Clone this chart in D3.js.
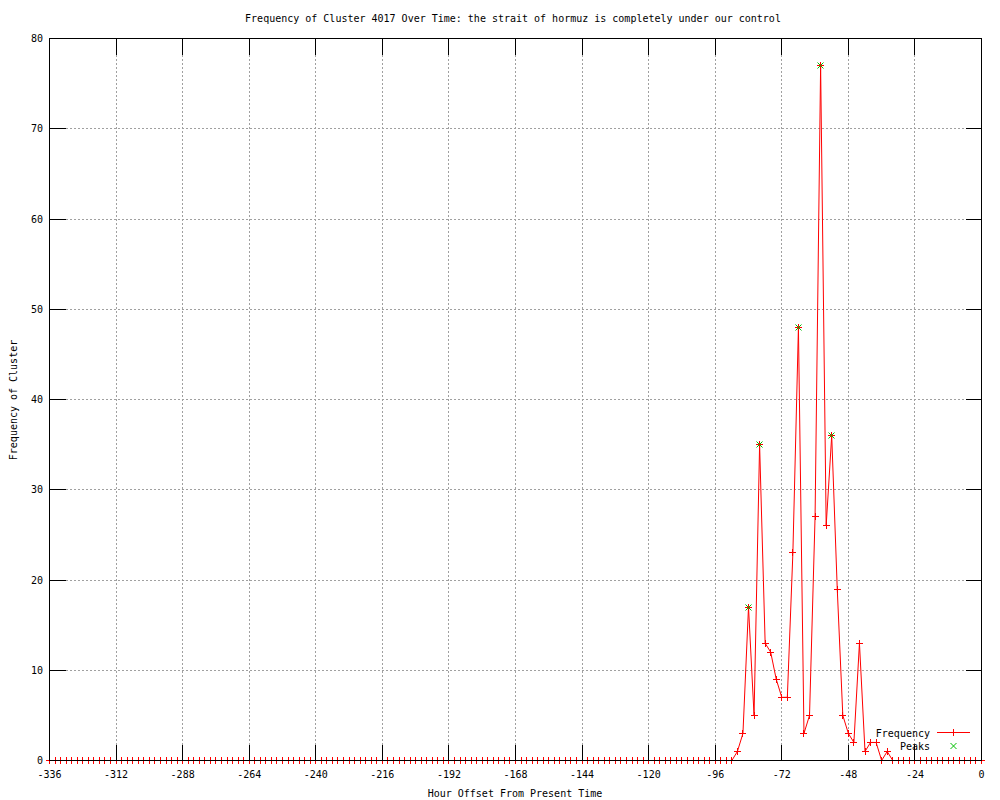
<!DOCTYPE html>
<html>
<head>
<meta charset="utf-8">
<script src="https://cdnjs.cloudflare.com/ajax/libs/d3/7.8.5/d3.min.js"></script>
<style>
  body { margin: 0; background: #fff; }
  svg { display: block; font-family: "DejaVu Sans Mono", monospace; font-size: 10px; }
</style>
</head>
<body>
<svg></svg>
<script>
// hours (offset from present), one point every 2 hours
var hours = [
  -336,-334,-332,-330,-328,-326,-324,-322,-320,-318,-316,-314,
  -312,-310,-308,-306,-304,-302,-300,-298,-296,-294,-292,-290,
  -288,-286,-284,-282,-280,-278,-276,-274,-272,-270,-268,-266,
  -264,-262,-260,-258,-256,-254,-252,-250,-248,-246,-244,-242,
  -240,-238,-236,-234,-232,-230,-228,-226,-224,-222,-220,-218,
  -216,-214,-212,-210,-208,-206,-204,-202,-200,-198,-196,-194,
  -192,-190,-188,-186,-184,-182,-180,-178,-176,-174,-172,-170,
  -168,-166,-164,-162,-160,-158,-156,-154,-152,-150,-148,-146,
  -144,-142,-140,-138,-136,-134,-132,-130,-128,-126,-124,-122,
  -120,-118,-116,-114,-112,-110,-108,-106,-104,-102,-100,-98,
  -96,-94,-92,-90,-88,-86,-84,-82,-80,-78,-76,-74,
  -72,-70,-68,-66,-64,-62,-60,-58,-56,-54,-52,-50,
  -48,-46,-44,-42,-40,-38,-36,-34,-32,-30,-28,-26,
  -24,-22,-20,-18,-16,-14,-12,-10,-8,-6,-4,-2,
  0
];
var frequency = [
  0,0,0,0,0,0,0,0,0,0,0,0,
  0,0,0,0,0,0,0,0,0,0,0,0,
  0,0,0,0,0,0,0,0,0,0,0,0,
  0,0,0,0,0,0,0,0,0,0,0,0,
  0,0,0,0,0,0,0,0,0,0,0,0,
  0,0,0,0,0,0,0,0,0,0,0,0,
  0,0,0,0,0,0,0,0,0,0,0,0,
  0,0,0,0,0,0,0,0,0,0,0,0,
  0,0,0,0,0,0,0,0,0,0,0,0,
  0,0,0,0,0,0,0,0,0,0,0,0,
  0,0,0,0,1,3,17,5,35,13,12,9,
  7,7,23,48,3,5,27,77,26,36,19,5,
  3,2,13,1,2,2,0,1,0,0,0,0,
  0,0,0,0,0,0,0,0,0,0,0,0,
  0
];
var peakHours = [-84, -80, -66, -58, -54];
var peakValues = [17, 35, 48, 77, 36];

var xTicks = [-336,-312,-288,-264,-240,-216,-192,-168,-144,-120,-96,-72,-48,-24,0];
var yTicks = [0,10,20,30,40,50,60,70,80];

var width = 1000,
    height = 800,
    plotLeft = 49.5, plotRight = 981.5, plotTop = 38.5, plotBottom = 760.5,
    tickLen = 16,
    svg = d3.select("svg").attr("width", width).attr("height", height);

var x = d3.scaleLinear().domain([-336, 0]).range([plotLeft, plotRight]),
    y = d3.scaleLinear().domain([0, 80]).range([plotBottom, plotTop]);

var data = hours.map(function(h, i) { return {h: h, v: frequency[i]}; });
var peaks = peakHours.map(function(h, i) { return {h: h, v: peakValues[i]}; });

function snap(v) { return Math.round(v - 0.5) + 0.5; }

svg.append("rect").attr("width", width).attr("height", height).attr("fill", "#fff");

// grid
var grid = svg.append("g")
    .attr("stroke", "#a0a0a0")
    .attr("stroke-dasharray", "2,2")
    .attr("shape-rendering", "crispEdges");
grid.selectAll(".gx")
    .data(xTicks.slice(1, -1))
    .enter().append("line")
    .attr("x1", function(d) { return snap(x(d)); })
    .attr("x2", function(d) { return snap(x(d)); })
    .attr("y1", plotBottom - tickLen).attr("y2", plotTop + tickLen);
grid.selectAll(".gy")
    .data(yTicks.slice(1, -1))
    .enter().append("line")
    .attr("y1", function(d) { return snap(y(d)); })
    .attr("y2", function(d) { return snap(y(d)); })
    .attr("x1", plotLeft + tickLen).attr("x2", plotRight - tickLen);

// frequency line
var line = d3.line()
    .x(function(d) { return x(d.h); })
    .y(function(d) { return y(d.v); });

svg.append("path")
    .datum(data)
    .attr("d", line)
    .attr("fill", "none")
    .attr("stroke", "#ff0000")
    .attr("stroke-width", 1);

function plus(g, cx, cy, s) {
  g.append("path")
    .attr("d", "M" + (cx - s) + "," + cy + "H" + (cx + s) + "M" + cx + "," + (cy - s) + "V" + (cy + s));
}
function cross(g, cx, cy, s) {
  g.append("path")
    .attr("d", "M" + (cx - s) + "," + (cy - s) + "L" + (cx + s) + "," + (cy + s) +
               "M" + (cx - s) + "," + (cy + s) + "L" + (cx + s) + "," + (cy - s));
}

var marks = svg.append("g").attr("stroke", "#ff0000").attr("fill", "none").attr("shape-rendering", "crispEdges");
data.forEach(function(d) { plus(marks, snap(x(d.h)), snap(y(d.v)), 3.5); });

var peakMarks = svg.append("g").attr("stroke", "#00c000").attr("fill", "none");
peaks.forEach(function(d) { cross(peakMarks, snap(x(d.h)), snap(y(d.v)), 3); });

// border + ticks
var border = svg.append("g").attr("stroke", "#000").attr("fill", "none").attr("shape-rendering", "crispEdges");
border.append("rect")
    .attr("x", plotLeft).attr("y", plotTop)
    .attr("width", plotRight - plotLeft).attr("height", plotBottom - plotTop);
xTicks.forEach(function(d) {
  var px = snap(x(d));
  border.append("line").attr("x1", px).attr("x2", px).attr("y1", plotBottom).attr("y2", plotBottom - tickLen);
  border.append("line").attr("x1", px).attr("x2", px).attr("y1", plotTop).attr("y2", plotTop + tickLen);
});
yTicks.forEach(function(d) {
  var py = snap(y(d));
  border.append("line").attr("y1", py).attr("y2", py).attr("x1", plotLeft).attr("x2", plotLeft + tickLen);
  border.append("line").attr("y1", py).attr("y2", py).attr("x1", plotRight).attr("x2", plotRight - tickLen);
});

// tick labels
svg.selectAll(".xl")
    .data(xTicks)
    .enter().append("text")
    .attr("x", function(d) { return x(d); })
    .attr("y", 778)
    .attr("text-anchor", "middle")
    .text(function(d) { return d; });

svg.selectAll(".yl")
    .data(yTicks)
    .enter().append("text")
    .attr("x", 43)
    .attr("y", function(d) { return y(d) + 3.5; })
    .attr("text-anchor", "end")
    .text(function(d) { return d; });

// titles
svg.append("text")
    .attr("x", 513).attr("y", 22)
    .attr("text-anchor", "middle")
    .text("Frequency of Cluster 4017 Over Time: the strait of hormuz is completely under our control");

svg.append("text")
    .attr("x", 515).attr("y", 797)
    .attr("text-anchor", "middle")
    .text("Hour Offset From Present Time");

svg.append("text")
    .attr("transform", "translate(17,400) rotate(-90)")
    .attr("text-anchor", "middle")
    .text("Frequency of Cluster");

// legend
var legend = svg.append("g");
legend.append("text").attr("x", 930).attr("y", 736.5).attr("text-anchor", "end").text("Frequency");
legend.append("text").attr("x", 930).attr("y", 749.5).attr("text-anchor", "end").text("Peaks");
legend.append("line")
    .attr("x1", 937).attr("x2", 970).attr("y1", 732.5).attr("y2", 732.5)
    .attr("stroke", "#ff0000").attr("shape-rendering", "crispEdges");
var lm = legend.append("g").attr("stroke", "#ff0000").attr("shape-rendering", "crispEdges");
plus(lm, 953.5, 732.5, 3.5);
var lp = legend.append("g").attr("stroke", "#00c000").attr("fill", "none");
cross(lp, 953.5, 746, 3);
</script>
</body>
</html>
